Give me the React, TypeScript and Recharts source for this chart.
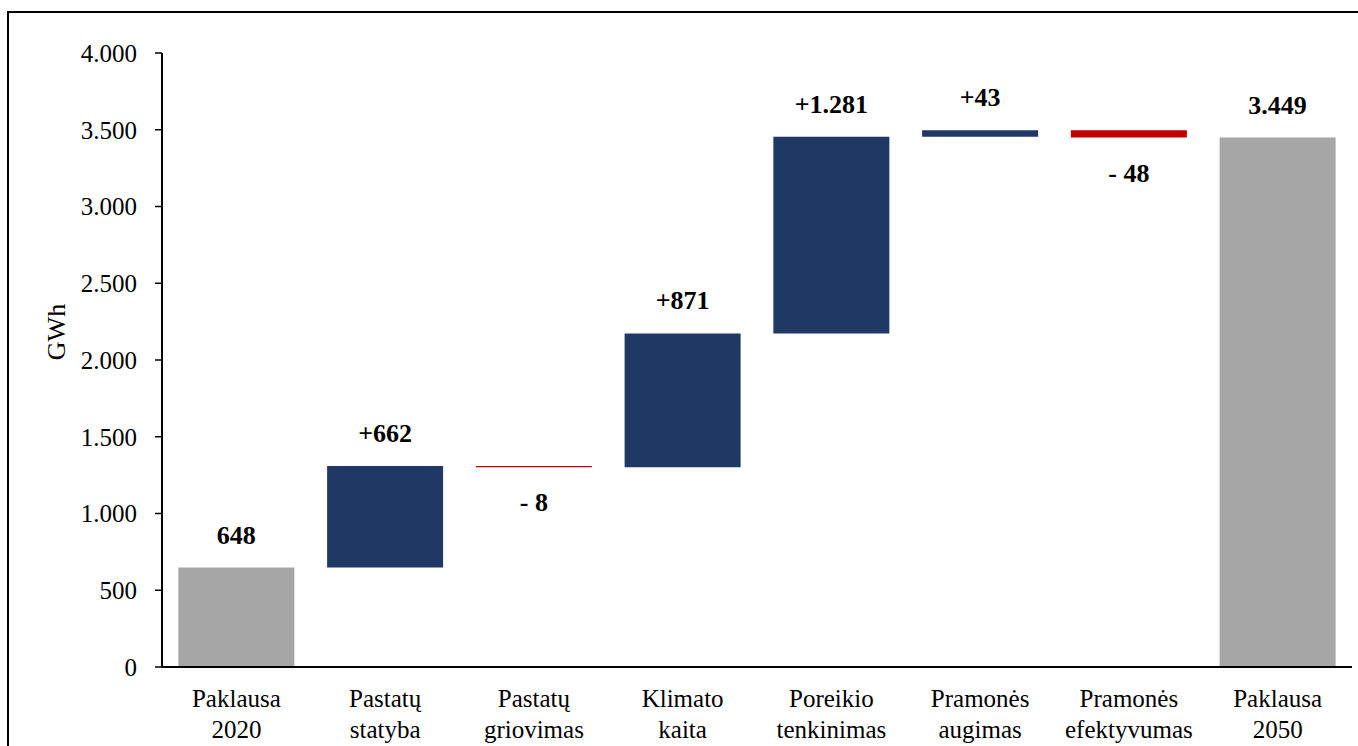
import { BarChart, Bar, XAxis, YAxis, Cell, LabelList } from 'recharts';

const categories = [
    'Paklausa 2020',
    'Pastatų statyba',
    'Pastatų griovimas',
    'Klimato kaita',
    'Poreikio tenkinimas',
    'Pramonės augimas',
    'Pramonės efektyvumas',
    'Paklausa 2050'
];
const values = [648, 662, -8, 871, 1281, 43, -48, 3449];
const kinds = ['total', 'up', 'down', 'up', 'up', 'up', 'down', 'total'];
const yTicks = [0, 500, 1000, 1500, 2000, 2500, 3000, 3500, 4000];

const colors: Record<string, string> = {
    total: '#a6a6a6',
    up: '#203864',
    down: '#c00000'
};

const FONT = 'Times New Roman';

const fmt = (v: number) => Math.round(v).toString().replace(/\B(?=(\d{3})+(?!\d))/g, '.');

// waterfall: invisible base + visible step
let running = 0;
const data = categories.map((name, i) => {
    const v = values[i];
    const kind = kinds[i];
    let base = 0;
    let size = v;
    let label = fmt(v);
    if (kind === 'total') {
        running = v;
    } else {
        const next = running + v;
        base = Math.min(running, next);
        size = Math.abs(v);
        label = v >= 0 ? '+' + fmt(v) : '- ' + fmt(-v);
        running = next;
    }
    return { name, base, size, label, kind };
});

const CategoryTick = ({ x, y, payload }: any) => {
    const parts = String(payload.value).split(' ');
    return (
        <g>
            <text x={x} y={y + 32} textAnchor="middle" style={{ fontFamily: FONT }} fontSize={25} fill="#000">
                {parts[0]}
            </text>
            <text x={x} y={y + 63} textAnchor="middle" style={{ fontFamily: FONT }} fontSize={25} fill="#000">
                {parts[1]}
            </text>
        </g>
    );
};

const StepLabel = (props: any) => {
    const { x, y, width, height, value } = props;
    const text = String(value);
    const negative = text.startsWith('-');
    const ty = negative ? y + height + 44 : y - 24;
    return (
        <text
            x={x + width / 2}
            y={ty}
            textAnchor="middle"
            style={{ fontFamily: FONT }}
            fontSize={26}
            fontWeight="bold"
            fill="#000"
        >
            {text}
        </text>
    );
};

export default function App() {
    return (
        <div
            style={{
                position: 'fixed',
                left: 0,
                top: 0,
                width: 1358,
                height: 746,
                overflow: 'hidden',
                background: '#fff'
            }}
        >
            <div
                style={{
                    position: 'absolute',
                    left: 7,
                    top: 11,
                    width: 1400,
                    height: 800,
                    border: '2px solid #000'
                }}
            />
            <div style={{ position: 'absolute', left: 0, top: 0 }}>
                <BarChart
                    width={1358}
                    height={746}
                    data={data}
                    margin={{ top: 53, right: 6, bottom: 0, left: 0 }}
                    barCategoryGap="11%"
                >
                    <XAxis
                        dataKey="name"
                        height={79}
                        tickLine={false}
                        axisLine={{ stroke: '#000', strokeWidth: 2 }}
                        tick={<CategoryTick />}
                        interval={0}
                    />
                    <XAxis
                        xAxisId="top"
                        dataKey="name"
                        orientation="top"
                        height={0}
                        tick={false}
                        tickLine={false}
                        axisLine={{ stroke: '#000', strokeWidth: 2 }}
                    />
                    <YAxis
                        width={162}
                        domain={[0, 4000]}
                        ticks={yTicks}
                        tickFormatter={fmt}
                        tickSize={7}
                        tickMargin={18}
                        axisLine={{ stroke: '#000', strokeWidth: 2 }}
                        tickLine={{ stroke: '#000', strokeWidth: 1.5 }}
                        tick={{ fill: '#000', fontSize: 25, fontFamily: FONT }}
                        interval={0}
                        label={{
                            content: () => (
                                <text
                                    x={65}
                                    y={332}
                                    transform="rotate(-90 65 332)"
                                    textAnchor="middle"
                                    style={{ fontFamily: FONT }}
                                    fontSize={26}
                                    fill="#000"
                                >
                                    GWh
                                </text>
                            )
                        }}
                    />
                    <YAxis
                        yAxisId="right"
                        orientation="right"
                        width={0}
                        domain={[0, 4000]}
                        tick={false}
                        tickLine={false}
                        axisLine={{ stroke: '#000', strokeWidth: 2 }}
                    />
                    <Bar dataKey="base" stackId="w" fill="transparent" isAnimationActive={false} />
                    <Bar dataKey="size" stackId="w" isAnimationActive={false}>
                        {data.map((d, i) => (
                            <Cell key={i} fill={colors[d.kind]} />
                        ))}
                        <LabelList dataKey="label" content={<StepLabel />} />
                    </Bar>
                </BarChart>
            </div>
        </div>
    );
}
